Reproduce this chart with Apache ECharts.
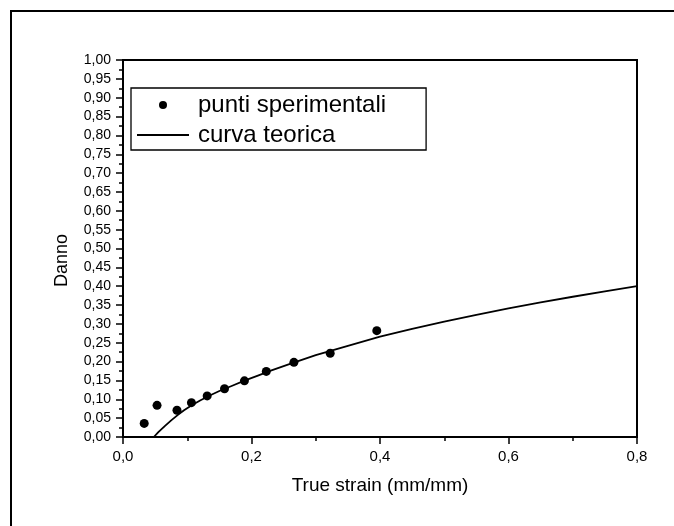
<!DOCTYPE html>
<html>
<head>
<meta charset="utf-8">
<script src="https://cdn.jsdelivr.net/npm/echarts@6/dist/echarts.min.js"></script>
<style>
  html, body { margin: 0; padding: 0; background: #fff; }
  #chart { width: 674px; height: 526px; }
</style>
</head>
<body>
<div id="chart"></div>
<script>
// punti sperimentali
var strainPts = [0.033, 0.053, 0.084, 0.1065, 0.131, 0.158, 0.189, 0.223, 0.266, 0.3225, 0.395];
var dannoPts = [0.036, 0.084, 0.071, 0.091, 0.109, 0.128, 0.149, 0.174, 0.198, 0.222, 0.282];

// curva teorica
var strainCurve = [0.048, 0.055, 0.065, 0.075, 0.085, 0.095, 0.107, 0.12, 0.135, 0.15, 0.17, 0.19, 0.21, 0.23, 0.26,
  0.3, 0.35, 0.4, 0.45, 0.5, 0.55, 0.6, 0.65, 0.7, 0.75, 0.8];
var dannoCurve = [0, 0.013, 0.029, 0.044, 0.058, 0.071, 0.084, 0.097, 0.110, 0.122, 0.136, 0.150, 0.163, 0.176, 0.194,
  0.217, 0.242, 0.266, 0.287, 0.306, 0.324, 0.341, 0.357, 0.372, 0.386, 0.400];

var seriesNames = ["punti sperimentali", "curva teorica"];
var xTitle = "True strain (mm/mm)";
var yTitle = "Danno";

var FONT = "'Liberation Sans', Arial, sans-serif";

function zip(a, b) {
  var out = [];
  for (var i = 0; i < a.length; i++) out.push([a[i], b[i]]);
  return out;
}

var chart = echarts.init(document.getElementById("chart"));
chart.setOption({
  animation: false,
  grid: {
    left: 123, top: 60, right: 37, bottom: 89,
    show: true, borderColor: "#000", borderWidth: 2
  },
  legend: {
    data: [
      { name: seriesNames[0] },
      // plain line, no marker in the middle
      { name: seriesNames[1], icon: "path://M0,0L52,0L52,1.8L0,1.8Z" }
    ],
    orient: "vertical",
    left: 131,
    top: 88,
    itemWidth: 52,
    itemHeight: 8,
    itemGap: 4,
    padding: [4, 40, 2, 6],
    borderColor: "#000",
    borderWidth: 1.3,
    textStyle: { fontFamily: FONT, fontSize: 24, color: "#000", lineHeight: 26, padding: [0, 0, 0, 4] }
  },
  xAxis: {
    type: "value",
    min: 0, max: 0.8, interval: 0.2,
    name: xTitle,
    nameLocation: "middle",
    nameGap: 39,
    nameTextStyle: { fontFamily: FONT, fontSize: 19, color: "#000" },
    axisLine: { lineStyle: { color: "#000", width: 2 } },
    axisTick: { length: 7, lineStyle: { color: "#000", width: 1.5 } },
    minorTick: { show: true, splitNumber: 2, length: 4, lineStyle: { color: "#000", width: 1.5 } },
    splitLine: { show: false },
    axisLabel: {
      margin: 12, fontFamily: FONT, fontSize: 15, color: "#000",
      formatter: function (v) { return v.toFixed(1).replace(".", ","); }
    }
  },
  yAxis: {
    type: "value",
    min: 0, max: 1, interval: 0.05,
    name: yTitle,
    nameLocation: "middle",
    nameGap: 52,
    nameTextStyle: { fontFamily: FONT, fontSize: 18, color: "#000", padding: [0, 24, 0, 0] },
    axisLine: { lineStyle: { color: "#000", width: 2 } },
    axisTick: { length: 7, lineStyle: { color: "#000", width: 1.5 } },
    minorTick: { show: true, splitNumber: 2, length: 4, lineStyle: { color: "#000", width: 1.5 } },
    splitLine: { show: false },
    axisLabel: {
      margin: 12, fontFamily: FONT, fontSize: 14, color: "#000",
      formatter: function (v) { return v.toFixed(2).replace(".", ","); }
    }
  },
  graphic: [{
    type: "rect",
    shape: { x: 11, y: 11, width: 700, height: 560 },
    style: { fill: null, stroke: "#000", lineWidth: 2 },
    silent: true
  }],
  series: [
    {
      name: seriesNames[0],
      type: "scatter",
      symbol: "circle",
      symbolSize: 9,
      itemStyle: { color: "#000", opacity: 1 },
      data: zip(strainPts, dannoPts),
      z: 3
    },
    {
      name: seriesNames[1],
      type: "line",
      symbol: "none",
      showSymbol: false,
      smooth: false,
      lineStyle: { color: "#000", width: 1.8 },
      itemStyle: { color: "#000" },
      data: zip(strainCurve, dannoCurve),
      z: 2
    }
  ]
});
</script>
</body>
</html>
